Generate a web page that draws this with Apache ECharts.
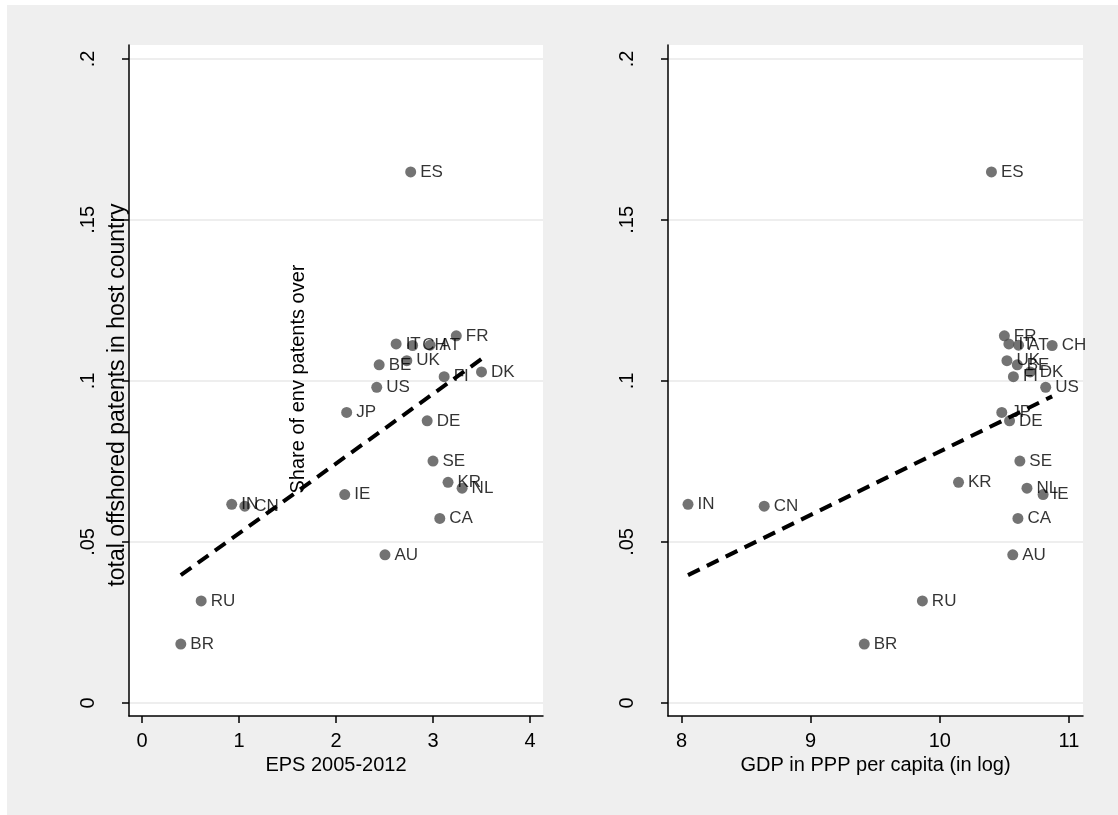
<!DOCTYPE html>
<html>
<head>
<meta charset="utf-8">
<script src="https://cdn.jsdelivr.net/npm/echarts@6/dist/echarts.min.js"></script>
<style>
html,body{margin:0;padding:0;background:#fff;}
#chart{width:1118px;height:815px;}
</style>
</head>
<body>
<div id="chart"></div>
<script>
// ---- data ----
const countries = ['ES','FR','IT','CH','AT','BE','UK','FI','DK','US','JP','DE','SE','KR','NL','IE','CA','AU','IN','CN','RU','BR'];
const epsValues = [2.77,3.24,2.62,2.79,2.97,2.445,2.73,3.115,3.50,2.42,2.11,2.94,3.00,3.155,3.30,2.09,3.07,2.505,0.925,1.06,0.61,0.40];
const gdpValues = [10.40,10.50,10.535,10.87,10.61,10.60,10.52,10.57,10.70,10.82,10.48,10.54,10.62,10.145,10.675,10.80,10.605,10.565,8.05,8.64,9.865,9.415];
const shareValues = [0.1649,0.1140,0.1115,0.1110,0.1111,0.1050,0.1063,0.1013,0.1028,0.0980,0.0902,0.0876,0.0751,0.0685,0.0667,0.0647,0.0573,0.0460,0.0617,0.0611,0.0317,0.0183];
const fitLeft = [[0.40,0.0397],[3.50,0.1068]];
const fitRight = [[8.05,0.0397],[10.87,0.0952]];
const xTicksLeft = [0,1,2,3,4];
const xTicksRight = [8,9,10,11];
const yTicks = [0,0.05,0.1,0.15,0.2];
const yTickLabels = ['0','.05','.1','.15','.2'];

const FONT = 'Liberation Sans, Arial, sans-serif';

function pts(xs){ return countries.map((c,i)=>({name:c, value:[xs[i], shareValues[i]]})); }

function yLabelFmt(v){
  for (let i=0;i<yTicks.length;i++) if (Math.abs(v-yTicks[i])<1e-9) return yTickLabels[i];
  return '';
}

function xAxisDef(idx,min,max,ticks,name){
  return {
    type:'value', gridIndex:idx, min:min, max:max,
    name:name, nameLocation:'middle', nameGap:34,
    nameTextStyle:{fontFamily:FONT,fontSize:20,color:'#000'},
    axisLine:{show:true,onZero:false,lineStyle:{color:'#000',width:1.5}},
    axisTick:{show:true,length:7,lineStyle:{color:'#000',width:1.5},customValues:ticks},
    axisLabel:{show:true,margin:15,fontFamily:FONT,fontSize:20,color:'#000',customValues:ticks},
    splitLine:{show:false}
  };
}
function yAxisDef(idx){
  return {
    type:'value', gridIndex:idx, min:-0.00404, max:0.2043,
    axisLine:{show:true,onZero:false,lineStyle:{color:'#000',width:1.5}},
    axisTick:{show:true,length:7,lineStyle:{color:'#000',width:1.5},customValues:yTicks},
    axisLabel:{show:true,rotate:90,margin:31,fontFamily:FONT,fontSize:20,color:'#000',customValues:yTicks,formatter:yLabelFmt},
    splitLine:{show:true,lineStyle:{color:'#e8e8e8',width:1.5}}
  };
}
function scatterDef(idx,xs){
  return {
    type:'scatter', xAxisIndex:idx, yAxisIndex:idx, data:pts(xs),
    symbolSize:11, itemStyle:{color:'#505050'},
    label:{show:true,position:'right',distance:4,formatter:'{b}',fontFamily:FONT,fontSize:17,color:'#000'},
    emphasis:{disabled:true}, z:3
  };
}
function fitDef(idx,data){
  return {
    type:'line', xAxisIndex:idx, yAxisIndex:idx, data:data, symbol:'none',
    lineStyle:{color:'#000',width:4,type:[13,8],cap:'butt'}, silent:true, z:4
  };
}

const chart = echarts.init(document.getElementById('chart'), null, {renderer:'canvas'});
chart.setOption({
  animation:false,
  backgroundColor:'#fff',
  graphic:[
    {type:'rect',shape:{x:7,y:5,width:1111,height:810},style:{fill:'#efefef'},z:-10,silent:true},
    {type:'text',x:118,y:395,rotation:Math.PI/2,style:{text:'total offshored patents in host country',fontFamily:FONT,fontSize:23,fill:'#000',align:'center',verticalAlign:'middle'},z:10},
    {type:'text',x:298,y:379,rotation:Math.PI/2,style:{text:'Share of env patents over',fontFamily:FONT,fontSize:20,fill:'#000',align:'center',verticalAlign:'middle'},z:10}
  ],
  grid:[
    {left:129,top:45,width:414,height:671,show:true,backgroundColor:'#fff',borderWidth:0},
    {left:668,top:45,width:415,height:671,show:true,backgroundColor:'#fff',borderWidth:0}
  ],
  xAxis:[
    xAxisDef(0,-0.134,4.134,xTicksLeft,'EPS 2005-2012'),
    xAxisDef(1,7.895,11.109,xTicksRight,'GDP in PPP per capita (in log)')
  ],
  yAxis:[yAxisDef(0),yAxisDef(1)],
  series:[
    scatterDef(0,epsValues), fitDef(0,fitLeft),
    scatterDef(1,gdpValues), fitDef(1,fitRight)
  ]
});
</script>
</body>
</html>
